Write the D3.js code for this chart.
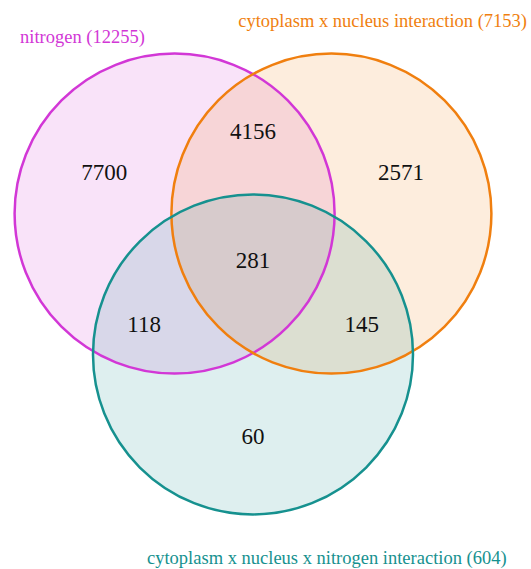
<!DOCTYPE html>
<html lang="en">
  <head>
    <meta charset="UTF-8" />
    <title>Venn diagram</title>
    <script src="https://d3js.org/d3.v7.min.js"></script>
    <style>
      body {
        margin: 0;
        background: white;
        font-family: "Liberation Serif", "Times New Roman", serif;
      }
    </style>
  </head>
  <body>
    <svg id="venn" width="531" height="569"></svg>
    <script>
      // Sets (name, total size, colour)
      const setNames = [
        "nitrogen",
        "cytoplasm x nucleus interaction",
        "cytoplasm x nucleus x nitrogen interaction",
      ];
      const setSizes = [12255, 7153, 604];
      const setColors = ["#d237d6", "#f07f0f", "#16918f"];

      // Region counts (A only, A&B, B only, A&B&C, A&C, B&C, C only)
      const regionKeys = ["A", "AB", "B", "ABC", "AC", "BC", "C"];
      const regionCounts = [7700, 4156, 2571, 281, 118, 145, 60];

      // Layout in radius units
      const centers = [
        [-0.49, -0.29],
        [0.49, -0.29],
        [0, 0.59],
      ];
      const regionPos = [
        [-0.93, -0.55],
        [0, -0.806],
        [0.925, -0.55],
        [0, 0],
        [-0.68, 0.406],
        [0.68, 0.406],
        [0, 1.106],
      ];

      const R = 160;
      const x = d3.scaleLinear().domain([0, 1]).range([253, 253 + R]);
      const y = d3.scaleLinear().domain([0, 1]).range([260, 260 + R]);

      const svg = d3.select("#venn");

      // circles: fills first, then outlines
      svg
        .selectAll("circle.fill")
        .data(centers)
        .join("circle")
        .attr("class", "fill")
        .attr("cx", (d) => x(d[0]))
        .attr("cy", (d) => y(d[1]))
        .attr("r", R)
        .attr("fill", (d, i) => setColors[i])
        .attr("fill-opacity", 0.14);

      svg
        .selectAll("circle.edge")
        .data(centers)
        .join("circle")
        .attr("class", "edge")
        .attr("cx", (d) => x(d[0]))
        .attr("cy", (d) => y(d[1]))
        .attr("r", R)
        .attr("fill", "none")
        .attr("stroke", (d, i) => setColors[i])
        .attr("stroke-width", 2.5);

      // region counts
      svg
        .selectAll("text.count")
        .data(regionCounts)
        .join("text")
        .attr("class", "count")
        .attr("x", (d, i) => x(regionPos[i][0]))
        .attr("y", (d, i) => y(regionPos[i][1]))
        .attr("text-anchor", "middle")
        .attr("dominant-baseline", "central")
        .attr("font-size", 23)
        .attr("fill", "#111")
        .text((d) => d);

      // set labels
      const labelPos = [
        { x: 20, y: 43, anchor: "start" },
        { x: 527, y: 27, anchor: "end" },
        { x: 147, y: 564, anchor: "start" },
      ];
      svg
        .selectAll("text.set")
        .data(setNames)
        .join("text")
        .attr("class", "set")
        .attr("x", (d, i) => labelPos[i].x)
        .attr("y", (d, i) => labelPos[i].y)
        .attr("text-anchor", (d, i) => labelPos[i].anchor)
        .attr("font-size", 18.5)
        .attr("fill", (d, i) => setColors[i])
        .text((d, i) => `${d} (${setSizes[i]})`);
    </script>
  </body>
</html>
